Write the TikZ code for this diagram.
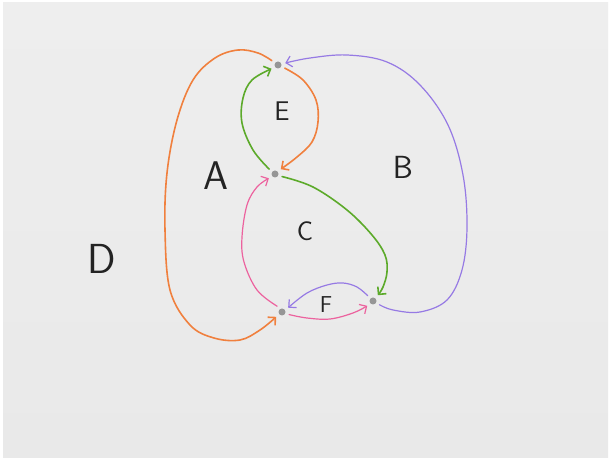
\documentclass[tikz,border=0pt]{standalone}
\usetikzlibrary{arrows.meta}
\definecolor{eorange}{RGB}{240,128,62}
\definecolor{egreen}{RGB}{92,170,42}
\definecolor{epurple}{RGB}{150,122,228}
\definecolor{epink}{RGB}{236,98,158}
\definecolor{paperA}{RGB}{238,238,238}
\definecolor{paperB}{RGB}{247,247,247}
\definecolor{paperC}{RGB}{233,233,233}
\definecolor{dotgray}{RGB}{150,150,150}
\definecolor{ink}{RGB}{35,35,35}
\begin{document}
\begin{tikzpicture}[x=1pt,y=-1pt,
  dot/.style={circle,fill=dotgray,inner sep=0pt,minimum size=7pt,outer sep=4pt},
  thick edge/.style={line width=1.6pt,-{Straight Barb[length=5.5pt,width=11pt]},line cap=round,line join=round},
  thin edge/.style={line width=1.2pt,-{Straight Barb[length=5.5pt,width=11pt]},line cap=round,line join=round},
  lbl/.style={text=ink,font=\sffamily}]
\fill[white] (0,0) rectangle (611,462);
\shade[top color=paperA, middle color=paperB, bottom color=paperC] (3,3) rectangle (608,458);
\useasboundingbox (0,0) rectangle (611,462);

\node[dot] (n1) at (278,65) {};
\node[dot] (n2) at (275,174) {};
\node[dot] (n3) at (282,312) {};
\node[dot] (n4) at (373,301) {};

% green E loop: n2 -> n1
\draw[thick edge,egreen] plot[smooth,tension=0.6] coordinates {(n2.140) (253,150) (242,123) (243,98) (252,80) (n1.210)};
% orange E loop: n1 -> n2
\draw[thick edge,eorange] plot[smooth,tension=0.6] coordinates {(n1.-25) (303,80) (316,100) (318,122) (312,142) (297,157) (n2.40)};
% orange big: n1 -> n3
\draw[thick edge,eorange] plot[smooth,tension=0.6] coordinates {(n1.145) (258,53) (238,50) (215,58) (193,80) (177,120) (167,173) (165,230) (170,290) (190,325) (214,338) (240,340) (260,330) (n3.220)};
% purple big: n4 -> n1
\draw[thin edge,epurple] plot[smooth,tension=0.6] coordinates {(n4.-30) (393,310) (420,312) (447,300) (462,270) (467,227) (463,175) (448,125) (420,85) (387,62) (347,55) (310,58) (n1.15)};
% green: n2 -> n4
\draw[thick edge,egreen] plot[smooth,tension=0.6] coordinates {(n2.-20) (313,187) (347,210) (372,235) (385,255) (387,272) (383,287) (n4.50)};
% pink: n3 -> n2
\draw[thin edge,epink] plot[smooth,tension=0.6] coordinates {(n3.130) (257,290) (244,262) (242,237) (247,205) (257,187) (n2.215)};
% purple small: n4 -> n3
\draw[thin edge,epurple] plot[smooth,tension=0.6] coordinates {(n4.135) (357,287) (343,283) (327,285) (307,293) (n3.35)};
% pink small: n3 -> n4
\draw[thin edge,epink] plot[smooth,tension=0.6] coordinates {(n3.-20) (307,318) (330,319) (353,313) (n4.220)};

\node[lbl,font=\sffamily\fontsize{27}{27}\selectfont] (lE) at (282,111) {E};
\node[lbl,font=\sffamily\fontsize{40}{40}\selectfont] (lA) at (216,176) {A};
\node[lbl,font=\sffamily\fontsize{32}{32}\selectfont] (lB) at (403,167) {B};
\node[lbl,font=\sffamily\fontsize{27}{27}\selectfont] (lC) at (305,231) {C};
\node[lbl,font=\sffamily\fontsize{42}{42}\selectfont] (lD) at (102,259) {D};
\node[lbl,font=\sffamily\fontsize{23}{23}\selectfont] (lF) at (326,305) {F};
\end{tikzpicture}
\end{document}
